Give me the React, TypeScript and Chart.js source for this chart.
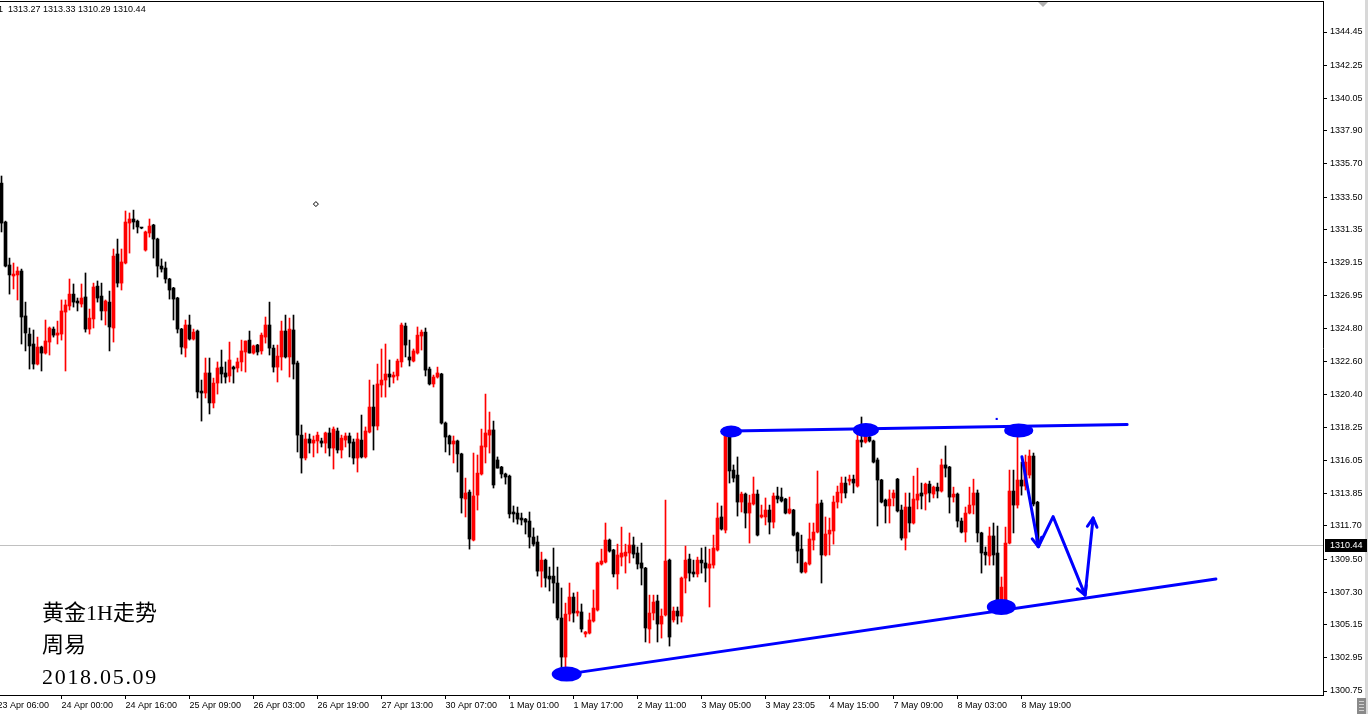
import React, { useEffect, useRef } from 'react';
import { Chart, registerables } from 'chart.js';

Chart.register(...registerables);

// ---- OHLC data (XAUUSD H1), bar index 0..259 ----
const opens = [
  1334.43, 1331.85, 1329.00, 1328.27, 1328.34, 1328.60, 1325.62, 1324.42, 1323.76, 1322.43,
  1323.56, 1323.16, 1323.89, 1324.75, 1324.35, 1324.42, 1325.88, 1326.28, 1327.07, 1326.61,
  1326.41, 1326.88, 1324.75, 1325.42, 1327.60, 1326.94, 1325.95, 1326.54, 1324.82, 1329.73,
  1327.80, 1329.13, 1331.78, 1332.05, 1331.91, 1331.45, 1329.99, 1331.12, 1331.65, 1330.72,
  1328.93, 1328.80, 1328.07, 1327.47, 1326.81, 1324.75, 1323.49, 1325.02, 1324.09, 1324.62,
  1320.64, 1320.51, 1321.84, 1319.85, 1321.17, 1322.23, 1321.84, 1321.64, 1322.23, 1322.17,
  1322.57, 1323.23, 1324.02, 1323.16, 1323.69, 1323.30, 1324.22, 1325.02, 1323.49, 1322.23,
  1322.90, 1324.62, 1322.90, 1324.69, 1322.50, 1317.72, 1316.20, 1317.46, 1317.19, 1317.33,
  1317.33, 1317.19, 1317.86, 1316.86, 1317.99, 1316.73, 1317.39, 1317.66, 1317.26, 1316.20,
  1317.39, 1316.27, 1317.92, 1319.58, 1318.32, 1321.04, 1321.37, 1321.77, 1321.57, 1321.64,
  1322.57, 1324.95, 1322.90, 1322.63, 1323.16, 1324.29, 1324.55, 1322.10, 1321.11, 1321.57,
  1321.77, 1318.52, 1317.66, 1317.13, 1317.33, 1316.47, 1313.48, 1313.94, 1310.76, 1313.74,
  1315.14, 1316.93, 1317.72, 1318.06, 1316.07, 1315.60, 1315.14, 1315.00, 1312.62, 1312.55,
  1312.22, 1312.15, 1312.02, 1310.96, 1310.63, 1308.70, 1309.43, 1308.37, 1308.37, 1307.91,
  1305.59, 1303.00, 1305.85, 1306.98, 1305.92, 1305.99, 1304.53, 1304.59, 1305.39, 1306.12,
  1309.17, 1309.30, 1310.76, 1310.10, 1308.51, 1309.63, 1309.70, 1309.90, 1310.43, 1309.90,
  1309.24, 1308.90, 1304.86, 1305.92, 1306.72, 1305.19, 1305.79, 1309.43, 1305.46, 1306.05,
  1305.72, 1308.24, 1309.50, 1308.64, 1308.51, 1309.43, 1309.24, 1308.90, 1309.10, 1310.10,
  1312.29, 1311.42, 1317.72, 1315.40, 1315.07, 1313.28, 1313.81, 1312.55, 1313.15, 1313.81,
  1312.29, 1312.29, 1312.75, 1311.95, 1313.68, 1313.61, 1313.48, 1312.55, 1312.75, 1311.23,
  1310.16, 1308.64, 1309.17, 1310.76, 1311.29, 1313.22, 1309.77, 1311.16, 1311.36, 1313.28,
  1313.88, 1314.54, 1314.67, 1314.80, 1314.34, 1317.39, 1317.26, 1317.59, 1317.33, 1316.07,
  1314.74, 1313.41, 1313.02, 1313.55, 1314.80, 1312.75, 1310.89, 1312.95, 1311.89, 1313.41,
  1313.88, 1313.81, 1314.47, 1313.81, 1314.27, 1314.01, 1315.74, 1315.60, 1313.61, 1313.81,
  1312.02, 1311.29, 1312.55, 1313.08, 1313.88, 1311.23, 1309.96, 1309.70, 1311.03, 1309.90,
  1306.78, 1306.78, 1310.56, 1314.01, 1313.08, 1314.74, 1314.34, 1315.07, 1316.33, 1313.27,
];

const highs = [
  1334.90, 1331.91, 1329.46, 1329.13, 1328.87, 1328.73, 1326.54, 1324.82, 1324.69, 1324.22,
  1323.62, 1325.35, 1324.89, 1324.89, 1325.28, 1326.68, 1326.68, 1328.07, 1327.74, 1326.81,
  1327.74, 1328.47, 1326.08, 1327.80, 1327.94, 1327.80, 1326.68, 1327.27, 1330.06, 1330.72,
  1330.06, 1332.58, 1332.45, 1332.64, 1331.98, 1331.50, 1331.25, 1332.05, 1331.70, 1330.78,
  1329.40, 1329.20, 1328.12, 1327.52, 1326.86, 1324.80, 1325.35, 1325.68, 1324.75, 1324.69,
  1321.37, 1322.83, 1322.83, 1321.50, 1322.57, 1323.36, 1322.57, 1323.89, 1322.30, 1322.83,
  1324.02, 1323.96, 1324.62, 1323.69, 1323.74, 1324.49, 1325.55, 1326.54, 1323.69, 1323.69,
  1325.28, 1325.68, 1325.48, 1325.68, 1322.63, 1318.39, 1317.86, 1317.79, 1317.66, 1317.92,
  1317.52, 1317.92, 1318.19, 1318.26, 1318.19, 1317.72, 1317.86, 1317.86, 1317.46, 1317.86,
  1319.05, 1318.26, 1321.37, 1321.04, 1322.43, 1323.43, 1323.76, 1322.70, 1321.90, 1322.76,
  1325.15, 1325.15, 1324.02, 1323.43, 1324.89, 1324.69, 1324.82, 1322.23, 1321.70, 1322.23,
  1321.82, 1318.59, 1317.72, 1317.66, 1317.39, 1316.52, 1314.87, 1314.08, 1316.53, 1316.40,
  1318.12, 1320.44, 1319.25, 1318.65, 1316.27, 1315.65, 1315.20, 1315.07, 1313.02, 1312.95,
  1312.55, 1312.20, 1312.62, 1311.56, 1311.03, 1309.96, 1309.50, 1308.97, 1310.23, 1308.97,
  1307.58, 1306.58, 1307.91, 1307.25, 1307.31, 1306.52, 1304.70, 1305.92, 1307.45, 1309.30,
  1310.16, 1311.89, 1310.83, 1310.15, 1310.49, 1311.62, 1310.49, 1311.23, 1310.96, 1310.30,
  1310.56, 1308.95, 1307.11, 1307.11, 1307.11, 1306.19, 1313.41, 1309.50, 1306.32, 1306.32,
  1308.31, 1310.36, 1309.83, 1309.43, 1309.63, 1310.23, 1310.30, 1310.16, 1311.09, 1313.22,
  1313.02, 1317.99, 1317.86, 1315.74, 1316.27, 1313.94, 1313.88, 1313.74, 1314.94, 1314.08,
  1313.08, 1313.55, 1313.08, 1313.88, 1314.27, 1314.21, 1313.53, 1313.61, 1312.80, 1311.29,
  1311.09, 1309.30, 1311.89, 1311.89, 1315.34, 1313.41, 1312.29, 1312.22, 1313.68, 1314.34,
  1314.94, 1314.94, 1315.07, 1315.07, 1317.86, 1318.92, 1318.19, 1317.86, 1317.39, 1316.20,
  1314.79, 1313.48, 1314.08, 1314.08, 1314.85, 1313.08, 1313.88, 1313.88, 1315.00, 1315.53,
  1314.54, 1314.54, 1314.67, 1314.34, 1314.54, 1316.13, 1317.00, 1315.65, 1314.27, 1313.88,
  1312.22, 1312.95, 1314.27, 1314.80, 1314.08, 1311.28, 1310.30, 1311.62, 1311.89, 1311.69,
  1308.31, 1311.62, 1315.40, 1315.40, 1317.92, 1315.93, 1316.40, 1316.73, 1316.53, 1313.33,
];

const lows = [
  1331.19, 1328.87, 1327.07, 1327.41, 1326.68, 1323.76, 1323.30, 1322.10, 1322.10, 1322.37,
  1321.97, 1323.09, 1323.03, 1324.22, 1323.76, 1324.02, 1321.97, 1326.01, 1326.21, 1325.95,
  1326.21, 1324.55, 1324.42, 1324.82, 1326.54, 1325.35, 1325.02, 1323.30, 1323.89, 1327.54,
  1327.34, 1329.07, 1329.79, 1331.38, 1331.12, 1331.40, 1329.92, 1330.85, 1329.46, 1328.20,
  1328.53, 1327.80, 1326.74, 1325.35, 1324.49, 1323.09, 1322.90, 1324.02, 1324.02, 1320.18,
  1318.65, 1320.18, 1319.12, 1319.52, 1320.44, 1321.17, 1321.17, 1321.24, 1321.17, 1321.90,
  1321.97, 1321.90, 1323.16, 1323.09, 1323.03, 1323.09, 1323.82, 1323.03, 1321.90, 1321.24,
  1322.03, 1322.83, 1321.57, 1321.44, 1316.60, 1315.20, 1316.07, 1316.53, 1316.27, 1316.53,
  1316.93, 1316.53, 1316.33, 1315.47, 1316.53, 1316.20, 1316.93, 1316.27, 1315.80, 1315.27,
  1316.20, 1316.20, 1317.86, 1316.73, 1318.06, 1320.24, 1320.24, 1320.91, 1321.17, 1321.37,
  1322.23, 1322.90, 1322.30, 1322.57, 1323.09, 1323.36, 1321.64, 1321.04, 1320.91, 1321.50,
  1318.45, 1316.60, 1316.40, 1315.87, 1315.27, 1312.55, 1312.29, 1310.16, 1310.70, 1312.75,
  1315.07, 1315.87, 1316.53, 1314.21, 1315.53, 1314.87, 1314.47, 1312.22, 1311.95, 1311.82,
  1311.76, 1311.16, 1310.23, 1310.36, 1308.37, 1307.64, 1307.64, 1307.38, 1306.58, 1305.46,
  1302.34, 1302.34, 1305.39, 1305.32, 1305.72, 1304.66, 1304.33, 1304.53, 1305.32, 1306.05,
  1309.10, 1309.24, 1309.96, 1308.31, 1307.51, 1309.04, 1308.57, 1309.24, 1309.57, 1308.84,
  1307.78, 1304.00, 1303.93, 1305.46, 1304.00, 1304.26, 1305.72, 1303.73, 1305.32, 1305.19,
  1305.32, 1307.25, 1308.04, 1308.31, 1308.31, 1308.57, 1307.98, 1306.32, 1308.90, 1310.03,
  1311.42, 1311.23, 1314.54, 1314.61, 1312.35, 1312.62, 1311.56, 1310.56, 1313.08, 1311.03,
  1312.22, 1311.76, 1311.16, 1311.56, 1313.22, 1313.28, 1312.49, 1312.49, 1311.03, 1309.24,
  1308.57, 1308.57, 1309.10, 1310.10, 1311.23, 1307.91, 1309.70, 1309.77, 1310.49, 1312.88,
  1313.22, 1313.55, 1314.41, 1313.88, 1314.27, 1316.93, 1317.19, 1317.26, 1315.87, 1311.69,
  1313.22, 1311.89, 1311.89, 1313.02, 1312.62, 1310.76, 1310.10, 1311.29, 1311.82, 1312.82,
  1312.82, 1312.75, 1313.28, 1313.55, 1313.55, 1313.94, 1314.94, 1312.55, 1313.28, 1311.62,
  1311.23, 1310.63, 1312.49, 1312.49, 1310.63, 1308.57, 1309.10, 1309.10, 1309.10, 1306.45,
  1306.58, 1306.65, 1310.50, 1311.23, 1312.88, 1313.74, 1314.08, 1314.87, 1313.02, 1310.29,
];

const closes = [
  1331.78, 1328.93, 1328.34, 1328.40, 1328.60, 1325.55, 1324.49, 1323.63, 1322.43, 1323.56,
  1323.16, 1323.96, 1324.82, 1324.35, 1324.49, 1325.95, 1326.35, 1327.07, 1326.54, 1326.48,
  1326.81, 1324.75, 1325.48, 1327.54, 1326.81, 1325.95, 1326.61, 1324.89, 1329.59, 1327.80,
  1329.20, 1331.85, 1332.05, 1331.85, 1331.52, 1331.45, 1331.19, 1331.58, 1330.72, 1328.93,
  1328.73, 1328.07, 1327.34, 1326.74, 1324.75, 1323.56, 1325.02, 1324.09, 1324.55, 1320.58,
  1320.51, 1321.84, 1319.85, 1321.17, 1322.17, 1321.77, 1321.57, 1322.70, 1322.10, 1322.57,
  1323.30, 1323.96, 1323.16, 1323.63, 1323.23, 1324.35, 1325.02, 1323.49, 1322.23, 1322.96,
  1324.62, 1322.90, 1324.75, 1322.43, 1317.72, 1316.20, 1317.46, 1317.19, 1317.39, 1317.72,
  1317.19, 1317.86, 1316.86, 1318.12, 1316.73, 1317.52, 1317.66, 1317.19, 1316.20, 1317.46,
  1316.27, 1317.99, 1319.58, 1318.32, 1321.11, 1321.37, 1321.77, 1321.57, 1321.70, 1322.63,
  1325.02, 1323.69, 1322.70, 1323.30, 1324.35, 1324.55, 1322.03, 1321.11, 1321.57, 1321.84,
  1318.52, 1317.59, 1317.13, 1317.33, 1316.47, 1313.55, 1313.88, 1310.83, 1313.68, 1315.20,
  1317.00, 1317.86, 1318.06, 1314.41, 1315.53, 1315.14, 1314.94, 1312.49, 1312.49, 1312.15,
  1312.09, 1311.95, 1310.96, 1310.49, 1308.70, 1309.43, 1308.24, 1308.17, 1307.91, 1305.59,
  1303.00, 1305.85, 1306.98, 1305.92, 1306.05, 1304.86, 1304.66, 1305.46, 1306.25, 1309.24,
  1309.37, 1310.76, 1310.03, 1308.51, 1309.77, 1309.90, 1309.96, 1310.43, 1309.83, 1309.17,
  1308.90, 1304.93, 1305.92, 1306.65, 1305.19, 1305.72, 1309.37, 1304.33, 1306.05, 1305.72,
  1308.24, 1309.43, 1308.57, 1308.51, 1309.43, 1309.24, 1308.90, 1309.17, 1310.23, 1312.22,
  1311.49, 1317.86, 1315.34, 1314.87, 1313.28, 1313.81, 1312.55, 1313.22, 1313.81, 1311.09,
  1312.42, 1312.75, 1311.95, 1313.68, 1313.48, 1313.35, 1312.55, 1312.82, 1311.09, 1310.03,
  1308.64, 1309.24, 1310.83, 1311.29, 1313.15, 1309.77, 1311.16, 1311.42, 1313.28, 1313.94,
  1314.54, 1313.88, 1314.80, 1314.54, 1317.39, 1317.26, 1317.86, 1317.33, 1315.93, 1314.74,
  1313.28, 1313.02, 1313.48, 1313.88, 1312.69, 1310.89, 1312.95, 1311.89, 1313.48, 1313.81,
  1313.68, 1314.47, 1313.88, 1314.27, 1314.01, 1315.74, 1315.53, 1313.61, 1313.81, 1312.02,
  1311.29, 1312.55, 1313.08, 1313.88, 1311.23, 1309.90, 1309.77, 1311.03, 1309.77, 1306.78,
  1307.64, 1310.56, 1314.01, 1313.08, 1314.74, 1314.34, 1315.93, 1316.33, 1313.15, 1310.44,
];

// ---- axes ----
const xTickIndex = [-1, 15, 31, 47, 63, 79, 95, 111, 127, 143, 159, 175, 191, 207, 223, 239, 255];
const xTickLabels = [
  '23 Apr 06:00', '24 Apr 00:00', '24 Apr 16:00', '25 Apr 09:00', '26 Apr 03:00', '26 Apr 19:00',
  '27 Apr 13:00', '30 Apr 07:00', '1 May 01:00', '1 May 17:00', '2 May 11:00', '3 May 05:00',
  '3 May 23:05', '4 May 15:00', '7 May 09:00', '8 May 03:00', '8 May 19:00',
];
const yTickValues = [
  1300.75, 1302.95, 1305.15, 1307.30, 1309.50, 1311.70, 1313.85, 1316.05, 1318.25, 1320.40,
  1322.60, 1324.80, 1326.95, 1329.15, 1331.35, 1333.50, 1335.70, 1337.90, 1340.05, 1342.25, 1344.45,
];
const yMin = 1300.485;
const yMax = 1346.506;
const xMin = -0.375;
const xMax = 330.375;

// ---- hand-drawn annotations (bar index, price) ----
const resistanceLine = [{ x: 182.4, y: 1317.99 }, { x: 281.4, y: 1318.42 }];
const supportLine = [{ x: 141.3, y: 1301.87 }, { x: 303.6, y: 1308.18 }];
const forecastPath = [
  { x: 255.1, y: 1316.29 }, { x: 259.25, y: 1310.32 }, { x: 262.9, y: 1312.31 },
  { x: 270.9, y: 1307.11 }, { x: 272.9, y: 1312.22 },
];
const markerCenters = [
  { x: 182.4, y: 1317.96 }, { x: 216.1, y: 1318.06 }, { x: 254.3, y: 1318.02 },
  { x: 141.3, y: 1301.87 }, { x: 249.95, y: 1306.32 },
];
const diamondMarker = [{ x: 78.6, y: 1333.04 }];
const dotMarker = [{ x: 248.8, y: 1318.79 }];

const headerValues = ['1313.27', '1313.33', '1310.29', '1310.44'];

// styles
const RED = '#ff0000';
const BLACK = '#000000';
const BLUE = '#0000ff';
const AXIS_FONT = { family: '"Liberation Sans", Arial, sans-serif', size: 9 };
const ellipseRadii = [[11, 6], [13, 7], [14.5, 7], [15, 7.5], [14.5, 8]];

export default function App() {
  const ref = useRef<HTMLCanvasElement | null>(null);

  useEffect(() => {
    const canvas = ref.current;
    if (!canvas) return;
    const idx = opens.map((_, i) => i);
    const colors = idx.map((i) => (closes[i] > opens[i] ? RED : BLACK));
    const lastPrice = closes[closes.length - 1];

    const overlay = {
      id: 'mt4overlay',
      beforeDatasetsDraw(chart: any) {
        const { ctx, chartArea, scales } = chart;
        const y = Math.round(scales.y.getPixelForValue(lastPrice)) + 0.5;
        ctx.save();
        ctx.strokeStyle = '#c0c0c0';
        ctx.lineWidth = 1;
        ctx.beginPath();
        ctx.moveTo(chartArea.left, y);
        ctx.lineTo(chartArea.right, y);
        ctx.stroke();
        ctx.restore();
      },
      afterDatasetsDraw(chart: any) {
        const { ctx, scales } = chart;
        const px = (p: { x: number; y: number }) => [scales.x.getPixelForValue(p.x), scales.y.getPixelForValue(p.y)];
        ctx.save();
        ctx.fillStyle = BLUE;
        markerCenters.forEach((c, k) => {
          const [cx, cy] = px(c);
          ctx.beginPath();
          ctx.ellipse(cx, cy, ellipseRadii[k][0], ellipseRadii[k][1], 0, 0, Math.PI * 2);
          ctx.fill();
        });
        ctx.strokeStyle = BLUE;
        ctx.lineWidth = 3;
        ctx.lineCap = 'round';
        const head = (a: any, b: any) => {
          const [fx, fy] = px(a);
          const [tx, ty] = px(b);
          const ang = Math.atan2(ty - fy, tx - fx);
          ctx.beginPath();
          for (const s of [-1, 1]) {
            const t = ang + Math.PI + s * 0.5;
            ctx.moveTo(tx, ty);
            ctx.lineTo(tx + 10 * Math.cos(t), ty + 10 * Math.sin(t));
          }
          ctx.stroke();
        };
        head(forecastPath[0], forecastPath[1]);
        head(forecastPath[2], forecastPath[3]);
        head(forecastPath[3], forecastPath[4]);
        ctx.restore();
      },
      afterDraw(chart: any) {
        const { ctx, chartArea, scales } = chart;
        const { left, right, top, bottom } = chartArea;
        ctx.save();
        ctx.strokeStyle = '#000';
        ctx.lineWidth = 1;
        ctx.beginPath();
        ctx.moveTo(left, top + 0.5);
        ctx.lineTo(right + 1, top + 0.5);
        ctx.moveTo(right + 0.5, top);
        ctx.lineTo(right + 0.5, bottom + 1);
        ctx.moveTo(left, bottom + 0.5);
        ctx.lineTo(right + 1, bottom + 0.5);
        ctx.stroke();

        // chart shift marker
        const sx = Math.round(scales.x.getPixelForValue(260.4));
        ctx.fillStyle = '#b0b0b0';
        ctx.beginPath();
        ctx.moveTo(sx - 5, top + 1);
        ctx.lineTo(sx + 5, top + 1);
        ctx.lineTo(sx, top + 6);
        ctx.closePath();
        ctx.fill();

        // window edge
        ctx.fillStyle = '#d8d8d8';
        ctx.fillRect(chart.width - 3, 0, 3, chart.height);

        // current price label
        const py = Math.round(scales.y.getPixelForValue(lastPrice));
        ctx.fillStyle = '#000';
        ctx.fillRect(right + 2, py - 6, 42, 13);
        ctx.fillStyle = '#fff';
        ctx.font = '9px "Liberation Sans", Arial, sans-serif';
        ctx.textBaseline = 'middle';
        ctx.textAlign = 'left';
        ctx.fillText(lastPrice.toFixed(2), right + 7, py + 0.5);

        // scroll grip
        ctx.fillStyle = '#8a8a8a';
        ctx.fillRect(chart.width - 11, bottom + 3, 9, chart.height - bottom - 3);
        ctx.fillStyle = '#d0d0d0';
        for (let k = 0; k < 4; k++) ctx.fillRect(chart.width - 9, bottom + 6 + k * 3, 5, 1);
        ctx.restore();
      },
    };

    const lineStyle = {
      type: 'line' as const,
      borderColor: BLUE,
      backgroundColor: BLUE,
      borderWidth: 3,
      pointRadius: 0,
      pointHoverRadius: 0,
      tension: 0,
      borderCapStyle: 'round' as const,
      borderJoinStyle: 'round' as const,
      order: 1,
    };

    const chart = new Chart(canvas, {
      type: 'bar',
      data: {
        datasets: [
          { ...lineStyle, label: 'resistance', data: resistanceLine },
          { ...lineStyle, label: 'support', data: supportLine },
          { ...lineStyle, label: 'forecast', data: forecastPath },
          {
            type: 'line', label: 'marker', data: diamondMarker, showLine: false, pointStyle: 'rectRot',
            pointRadius: 2.5, pointHoverRadius: 0, borderColor: BLACK, backgroundColor: '#fff', borderWidth: 1, order: 1,
          },
          {
            type: 'line', label: 'dot', data: dotMarker, showLine: false, pointStyle: 'rect',
            pointRadius: 1.5, pointHoverRadius: 0, borderColor: BLUE, backgroundColor: BLUE, borderWidth: 0, order: 1,
          },
          {
            type: 'bar', label: 'body', data: idx.map((i) => ({ x: i, y: [opens[i], closes[i]] })),
            backgroundColor: colors, borderWidth: 0, grouped: false, barPercentage: 1, categoryPercentage: 1,
            maxBarThickness: 3, minBarLength: 1, order: 2,
          },
          {
            type: 'bar', label: 'wick', data: idx.map((i) => ({ x: i, y: [lows[i], highs[i]] })),
            backgroundColor: colors, borderWidth: 0, grouped: false, barPercentage: 1, categoryPercentage: 1,
            maxBarThickness: 1, minBarLength: 1, order: 3,
          },
        ] as any,
      },
      options: {
        animation: false,
        responsive: false,
        devicePixelRatio: 1,
        events: [],
        layout: { autoPadding: false, padding: { top: 1, left: 0, right: 0, bottom: 0 } },
        plugins: { legend: { display: false }, tooltip: { enabled: false }, title: { display: false } },
        scales: {
          x: {
            type: 'linear',
            min: xMin,
            max: xMax,
            offset: false,
            bounds: 'data',
            grid: { display: true, drawOnChartArea: false, drawTicks: true, tickLength: 4, color: '#000', offset: false },
            border: { display: false },
            ticks: {
              autoSkip: false, maxRotation: 0, minRotation: 0, align: 'start', padding: 1, color: '#000',
              font: AXIS_FONT,
              callback: (v: any) => {
                const k = xTickIndex.indexOf(Number(v));
                return k >= 0 ? xTickLabels[k] : '';
              },
            },
            afterBuildTicks: (s: any) => { s.ticks = xTickIndex.map((v) => ({ value: v })); },
            afterFit: (s: any) => { s.height = 19; s.paddingLeft = 0; s.paddingRight = 0; },
          },
          y: {
            type: 'linear',
            position: 'right',
            min: yMin,
            max: yMax,
            bounds: 'data',
            grid: { display: true, drawOnChartArea: false, drawTicks: true, tickLength: 4, color: '#000' },
            border: { display: false },
            ticks: {
              autoSkip: false, padding: 3, color: '#000', font: AXIS_FONT,
              callback: (v: any) => Number(v).toFixed(2),
            },
            afterBuildTicks: (s: any) => { s.ticks = yTickValues.map((v) => ({ value: v })); },
            afterFit: (s: any) => { s.width = 45; s.paddingTop = 0; s.paddingBottom = 0; },
          },
        },
      } as any,
      plugins: [overlay],
    });
    return () => chart.destroy();
  }, []);

  const cjk = '"Liberation Serif", "Noto Sans CJK SC", serif';
  return (
    <div style={{ position: 'relative', width: 1368, height: 714, overflow: 'hidden', background: '#fff' }}>
      <style>{'html,body{margin:0;padding:0;overflow:hidden;background:#fff}'}</style>
      <canvas ref={ref} width={1368} height={714} style={{ display: 'block', width: 1368, height: 714 }} />
      <div
        style={{
          position: 'absolute', right: 1365, top: 4, lineHeight: '10px', whiteSpace: 'nowrap',
          font: '9px "Liberation Sans", Arial, sans-serif', color: '#000',
        }}
      >
        XAUUSD,H1
      </div>
      <div
        style={{
          position: 'absolute', left: 8, top: 4, lineHeight: '10px', whiteSpace: 'nowrap',
          font: '9px "Liberation Sans", Arial, sans-serif', color: '#000',
        }}
      >
        {headerValues.join(' ')}
      </div>
      <div
        style={{
          position: 'absolute', left: 42, top: 597, color: '#000', fontFamily: cjk,
          fontSize: 22, lineHeight: '32px', whiteSpace: 'nowrap',
        }}
      >
        <div>黄金1H走势</div>
        <div>周易</div>
        <div style={{ letterSpacing: '1.7px' }}>2018.05.09</div>
      </div>
    </div>
  );
}
